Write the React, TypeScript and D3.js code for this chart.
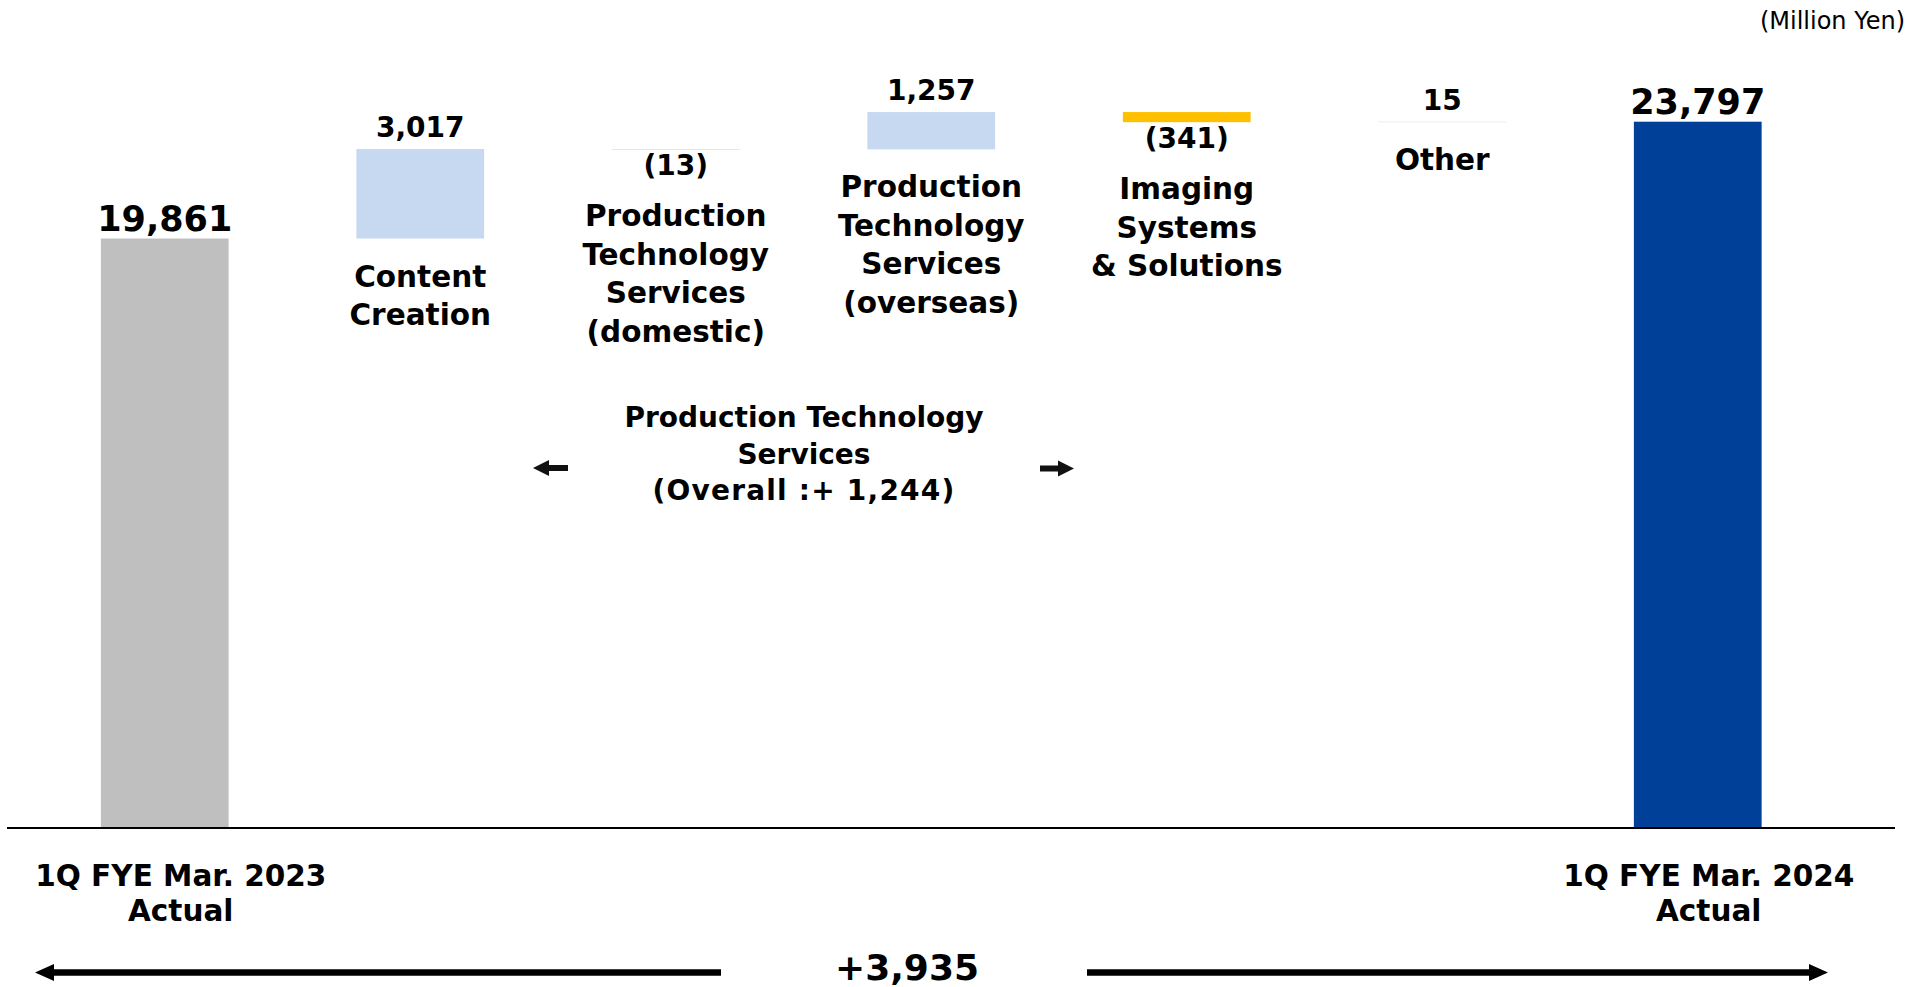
import React, { useEffect } from "react";
import * as d3 from "d3";

// ---- Data ----
const categories = ["start", "content", "ptsDomestic", "ptsOverseas", "imaging", "other", "end"];
const categoryLines: string[][] = [
  ["1Q FYE Mar. 2023", "Actual"],
  ["Content", "Creation"],
  ["Production", "Technology", "Services", "(domestic)"],
  ["Production", "Technology", "Services", "(overseas)"],
  ["Imaging", "Systems", "& Solutions"],
  ["Other"],
  ["1Q FYE Mar. 2024", "Actual"],
];
const values = [19861, 3017, -13, 1257, -341, 15, 23797];
const valueLabels = ["19,861", "3,017", "(13)", "1,257", "(341)", "15", "23,797"];
const kinds = ["total", "delta", "delta", "delta", "delta", "delta", "total"];
const unitLabel = "(Million Yen)";
const groupLabel = ["Production Technology", "Services", "(Overall :+ 1,244)"];
const totalChangeLabel = "+3,935";

const COLORS = {
  start: "#BFBFBF",
  up: "#C6D9F1",
  down: "#FFC000",
  end: "#004098",
};

const FONT = "'DejaVu Sans', 'Noto Sans CJK JP', sans-serif";

export default function App() {
  useEffect(() => {
    document.body.style.margin = "0";
  }, []);

  const W = 1929;
  const H = 987;

  const x = d3
    .scaleBand<string>()
    .domain(categories)
    .range([37, 1825.5])
    .paddingInner(0.5)
    .paddingOuter(0.25);

  const y = d3.scaleLinear().domain([0, 25000]).range([828, 86]);

  // waterfall computation
  let running = 0;
  const bars = categories.map((c, i) => {
    const v = values[i];
    let y0: number, y1: number;
    if (kinds[i] === "total") {
      y0 = 0;
      y1 = v;
      running = v;
    } else {
      y0 = running;
      y1 = running + v;
      running = y1;
    }
    const top = y(Math.max(y0, y1));
    const bottom = y(Math.min(y0, y1));
    let fill = v >= 0 ? COLORS.up : COLORS.down;
    if (kinds[i] === "total") fill = i === 0 ? COLORS.start : COLORS.end;
    return { c, i, v, top, bottom, fill, x: x(c)!, w: x.bandwidth() };
  });

  const arrowPath = (tipX: number, tailX: number, cy: number, headLen: number, headHalf: number, shaftHalf: number) => {
    const dir = tailX > tipX ? 1 : -1;
    const hx = tipX + dir * headLen;
    return `M${tipX},${cy} L${hx},${cy - headHalf} L${hx},${cy - shaftHalf} L${tailX},${cy - shaftHalf} L${tailX},${cy + shaftHalf} L${hx},${cy + shaftHalf} L${hx},${cy + headHalf} Z`;
  };

  return (
    <svg
      width={W}
      height={H}
      style={{ position: "absolute", left: 0, top: 0, display: "block", background: "#fff" }}
      fontFamily={FONT}
    >
      {/* unit label */}
      <text x={1905} y={29} textAnchor="end" fontSize={24} fill="#000">
        {unitLabel}
      </text>

      {/* bars */}
      {bars.map((b) => (
        <rect key={b.c} x={b.x} y={b.top} width={b.w} height={Math.max(b.bottom - b.top, 0.4)} fill={b.fill} />
      ))}

      {/* axis baseline */}
      <line x1={7} x2={1895} y1={y(0)} y2={y(0)} stroke="#000" strokeWidth={2} />

      {/* value labels */}
      {bars.map((b) => {
        const cx = b.x + b.w / 2;
        const isTotal = kinds[b.i] === "total";
        const yy = isTotal ? b.top - 8 : b.v >= 0 ? b.top - 12 : b.bottom + 26;
        return (
          <text key={"v" + b.c} x={cx} y={yy} textAnchor="middle" fontWeight="bold" fontSize={isTotal ? 35 : 28} fill="#000">
            {valueLabels[b.i]}
          </text>
        );
      })}

      {/* category labels */}
      {bars.map((b) => {
        const cx = b.x + b.w / 2;
        const isTotal = kinds[b.i] === "total";
        const first = isTotal ? 886 : b.v >= 0 ? b.bottom + 48 : b.bottom + 77;
        const lh = isTotal ? 35 : 38.5;
        return (
          <text key={"c" + b.c} textAnchor="middle" fontWeight="bold" fontSize={29.5} fill="#000">
            {categoryLines[b.i].map((ln, k) => (
              <tspan key={k} x={isTotal ? cx + (b.i === 0 ? 16 : 11) : cx} y={first + k * lh}>
                {ln}
              </tspan>
            ))}
          </text>
        );
      })}

      {/* group annotation */}
      <text textAnchor="middle" fontWeight="bold" fontSize={28} fill="#000">
        {groupLabel.map((ln, k) => (
          <tspan key={k} x={804} y={427 + k * 36.5} letterSpacing={k === 2 ? 1.2 : 0}>
            {ln}
          </tspan>
        ))}
      </text>
      <path d={arrowPath(533, 568, 468, 16, 8, 3)} fill="#111" />
      <path d={arrowPath(1074, 1040, 468.5, 16, 8, 3)} fill="#111" />

      {/* total change */}
      <text x={907} y={980} textAnchor="middle" fontWeight="bold" fontSize={36} fill="#000">
        {totalChangeLabel}
      </text>
      <path d={arrowPath(35, 721, 972.5, 19, 8.5, 3.2)} fill="#000" />
      <path d={arrowPath(1828, 1087, 972.5, 19, 8.5, 3.2)} fill="#000" />
    </svg>
  );
}
